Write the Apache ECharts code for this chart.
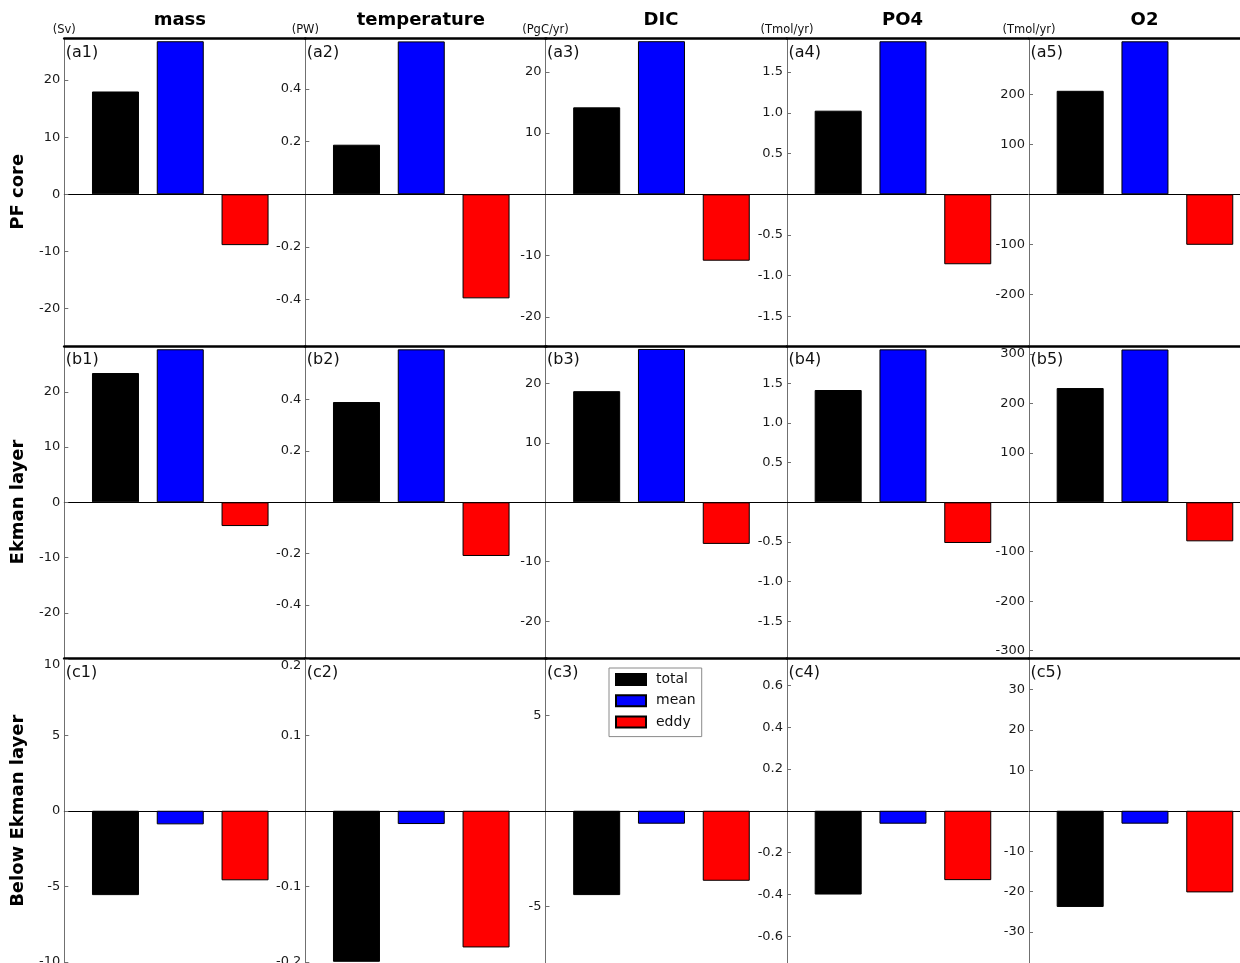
<!DOCTYPE html>
<html>
<head>
<meta charset="utf-8">
<script src="https://cdn.jsdelivr.net/npm/echarts@6/dist/echarts.min.js"></script>
<style>
  html, body { margin: 0; padding: 0; overflow: hidden; background: #fff; }
  #chart { position: absolute; left: 0; top: 0; width: 1270px; height: 963px; }
</style>
</head>
<body>
<div id="chart"></div>
<script>
// Transport decomposition (total = mean + eddy) for five tracers in three layers
const quantities = ['mass', 'temperature', 'DIC', 'PO4', 'O2'];
const unitLabels = ['(Sv)', '(PW)', '(PgC/yr)', '(Tmol/yr)', '(Tmol/yr)'];
const layers = ['PF core', 'Ekman layer', 'Below Ekman layer'];
const rowTags = ['a', 'b', 'c'];
const components = ['total', 'mean', 'eddy'];

// PF core
const pfTotal = [18.0, 0.188, 14.2, 1.026, 207];
const pfMean  = [26.8, 0.580, 25.0, 1.878, 306];
const pfEddy  = [-8.9, -0.395, -10.84, -0.859, -101];
// Ekman layer
const ekTotal = [23.4, 0.390, 18.7, 1.414, 231];
const ekMean  = [27.7, 0.595, 25.8, 1.926, 309];
const ekEddy  = [-4.3, -0.209, -7.0, -0.512, -79];
// Below Ekman layer
const belowTotal = [-5.58, -0.200, -4.42, -0.401, -23.8];
const belowMean  = [-0.90, -0.0176, -0.68, -0.062, -3.2];
const belowEddy  = [-4.60, -0.181, -3.67, -0.332, -20.2];

// y-axis limits per panel
const pfLimits    = [[-26.39, 27.28], [-0.572, 0.591], [-24.6, 25.44], [-1.850, 1.912], [-301.4, 311.6]];
const ekLimits    = [[-28.18, 28.29], [-0.606, 0.608], [-26.2, 26.3], [-1.960, 1.968], [-314.9, 316]];
const belowLimits = [[-10.07, 10.07], [-0.2016, 0.2016], [-7.98, 7.98], [-0.7286, 0.7286], [-37.67, 37.67]];

// y tick labels per panel
const pfTicks    = [[-20, -10, 0, 10, 20], [-0.4, -0.2, 0.2, 0.4], [-20, -10, 10, 20], [-1.5, -1, -0.5, 0.5, 1, 1.5], [-200, -100, 100, 200]];
const ekTicks    = [[-20, -10, 0, 10, 20], [-0.4, -0.2, 0.2, 0.4], [-20, -10, 10, 20], [-1.5, -1, -0.5, 0.5, 1, 1.5], [-300, -200, -100, 100, 200, 300]];
const belowTicks = [[-10, -5, 0, 5, 10], [-0.2, -0.1, 0.1, 0.2], [-5, 5], [-0.6, -0.4, -0.2, 0.2, 0.4, 0.6], [-30, -20, -10, 10, 20, 30]];
const tickDecimals = [0, 1, 0, 1, 0];

const rowValues = [
  [pfTotal, pfMean, pfEddy],
  [ekTotal, ekMean, ekEddy],
  [belowTotal, belowMean, belowEddy]
];
const rowLimits = [pfLimits, ekLimits, belowLimits];
const rowTicks = [pfTicks, ekTicks, belowTicks];

// layout (pixels)
const colX = [64.3, 305.3, 545.5, 787, 1029];
const colW = 241;
const rowTop = [38.5, 346, 658.5];
const rowBottom = [345, 658, 963];
const barColors = ['#000000', '#0000ff', '#ff0000'];
const FONT = 'DejaVu Sans';

const grids = [], xAxes = [], yAxes = [], series = [], graphics = [];

for (let r = 0; r < 3; r++) {
  for (let c = 0; c < 5; c++) {
    const g = grids.length;
    const h = rowBottom[r] - rowTop[r];
    grids.push({
      left: colX[c], top: rowTop[r], width: colW, height: h,
      containLabel: false, outerBoundsMode: 'none'
    });
    // bottom x axis: draws the zero line
    xAxes.push({
      type: 'value', gridIndex: g, min: -0.79, max: 2.93, position: 'bottom',
      axisLine: { show: true, onZero: true, lineStyle: { color: '#000', width: 1 } },
      axisTick: { show: false }, axisLabel: { show: false }, splitLine: { show: false }
    });
    // top x axis: the heavy row frame
    xAxes.push({
      type: 'value', gridIndex: g, min: -0.79, max: 2.93, position: 'top',
      axisLine: { show: true, onZero: false, lineStyle: { color: '#000', width: 2.7 } },
      axisTick: { show: false }, axisLabel: { show: false }, splitLine: { show: false }
    });
    const dec = tickDecimals[c];
    const lo = rowLimits[r][c][0], hi = rowLimits[r][c][1];
    yAxes.push({
      type: 'value', gridIndex: g, position: 'left', min: lo, max: hi,
      axisLine: { show: true, onZero: false, lineStyle: { color: '#707070', width: 1 } },
      axisTick: { show: true, inside: true, length: 4, customValues: rowTicks[r][c],
                  lineStyle: { color: '#707070', width: 1 } },
      axisLabel: {
        show: true, customValues: rowTicks[r][c], margin: 4,
        fontFamily: FONT, fontSize: 13, color: '#1a1a1a',
        formatter: v => {
          const s = Number(v).toFixed(dec);
          // a label hugging the heavy top frame is nudged below it
          return (hi - v) / (hi - lo) * h < 6 ? '{edge|' + s + '}' : s;
        },
        rich: { edge: { fontFamily: FONT, fontSize: 13, color: '#1a1a1a', padding: [11, 0, 0, 0] } }
      },
      splitLine: { show: false }
    });
    for (let k = 0; k < 3; k++) {
      series.push({
        name: components[k], type: 'bar',
        xAxisIndex: 2 * g, yAxisIndex: g,
        barWidth: 47, barGap: '-100%',
        itemStyle: { color: barColors[k], borderColor: '#000', borderWidth: 1 },
        data: [[k, rowValues[r][k][c]]],
        animation: false, silent: true
      });
    }
    graphics.push({
      type: 'text', left: colX[c] + 1.5, top: rowTop[r] + 6,
      style: { text: '(' + rowTags[r] + (c + 1) + ')', font: '16px "' + FONT + '"', fill: '#111' }
    });
  }
}

// column titles and units
for (let c = 0; c < 5; c++) {
  graphics.push({
    type: 'text', x: colX[c] + colW / 2 - 5, y: 20.5,
    style: { text: quantities[c], font: 'bold 18px "' + FONT + '"', fill: '#000',
             textAlign: 'center', textVerticalAlign: 'middle' }
  });
  graphics.push({
    type: 'text', x: colX[c], y: 30.5,
    style: { text: unitLabels[c], font: '11.5px "' + FONT + '"', fill: '#111',
             textAlign: 'center', textVerticalAlign: 'middle' }
  });
}

// row labels
for (let r = 0; r < 3; r++) {
  graphics.push({
    type: 'text', x: 18.7, y: (rowTop[r] + rowBottom[r]) / 2, rotation: Math.PI / 2,
    style: { text: layers[r], font: 'bold 18px "' + FONT + '"', fill: '#000',
             textAlign: 'center', textVerticalAlign: 'middle' }
  });
}

const chart = echarts.init(document.getElementById('chart'), null, { renderer: 'canvas' });
chart.setOption({
  animation: false,
  backgroundColor: '#fff',
  grid: grids,
  xAxis: xAxes,
  yAxis: yAxes,
  series: series,
  graphic: graphics,
  legend: {
    data: components, orient: 'vertical', left: 609, top: 668,
    padding: [4.5, 6, 7.5, 6], itemWidth: 30, itemHeight: 11, itemGap: 7.3,
    icon: 'rect', borderColor: '#8a8a8a', borderWidth: 1, backgroundColor: '#fff',
    selectedMode: false,
    textStyle: { fontFamily: FONT, fontSize: 14, color: '#111', padding: [0, 0, 0, 5] }
  }
});
</script>
</body>
</html>
